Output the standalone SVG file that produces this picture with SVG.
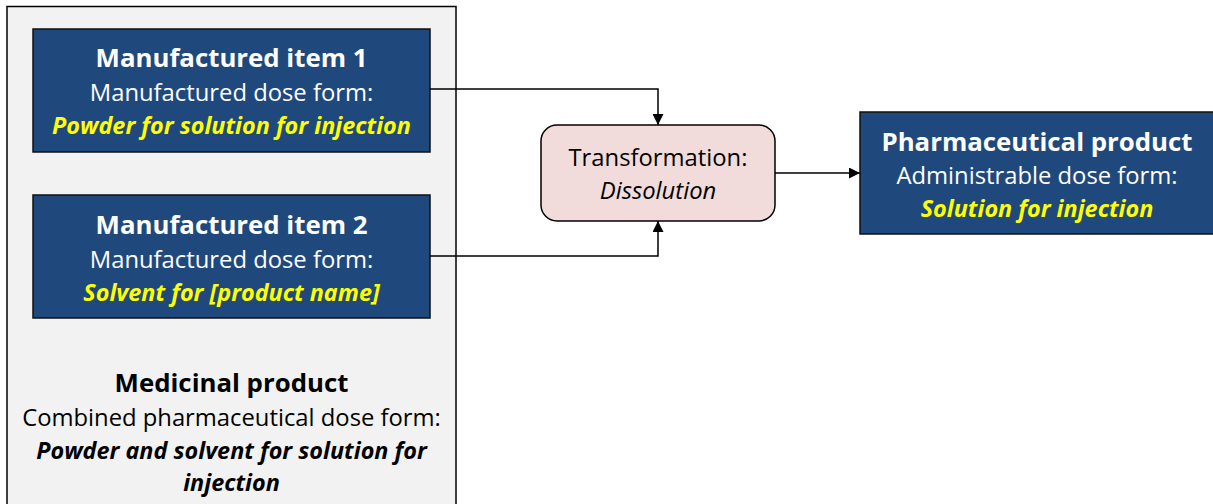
<svg xmlns="http://www.w3.org/2000/svg" width="1213" height="504" viewBox="0 0 1213 504">
  <style>
    text { font-family: "Open Sans", "Noto Sans", sans-serif; text-anchor: middle; }
    .blue { fill: #1F497D; stroke: #111; stroke-width: 1.5; }
    .title { font-size: 25.8px; font-weight: bold; fill: #fff; }
    .sub { font-size: 23.8px; fill: #fff; }
    .yel { font-size: 23.4px; font-weight: bold; font-style: italic; fill: #ffff00; }
    .dark { fill: #000; }
    .conn { fill: none; stroke: #000; stroke-width: 1.5; }
  </style>
  <defs>
    <marker id="arrow" viewBox="0 0 10 10" refX="10" refY="5" markerWidth="11" markerHeight="11" markerUnits="userSpaceOnUse" orient="auto" preserveAspectRatio="none">
      <path d="M0,0 L10,5 L0,10 z" fill="#000"/>
    </marker>
  </defs>
  <rect width="1213" height="504" fill="#fff"/>

  <g id="medicinal-product">
    <rect x="7" y="6.5" width="449" height="510" fill="#f2f2f2" stroke="#000" stroke-width="1.5"/>
    <text x="231.5" y="392" class="title dark">Medicinal product</text>
    <text x="231.5" y="426" class="sub dark">Combined pharmaceutical dose form:</text>
    <text x="231.5" y="459" class="yel dark">Powder and solvent for solution for</text>
    <text x="231.5" y="491" class="yel dark">injection</text>
  </g>

  <g id="manufactured-item-1">
    <rect x="33" y="29" width="397" height="123" class="blue"/>
    <text x="231.5" y="67" class="title">Manufactured item 1</text>
    <text x="231.5" y="101" class="sub">Manufactured dose form:</text>
    <text x="231.5" y="134" class="yel">Powder for solution for injection</text>
  </g>

  <g id="manufactured-item-2">
    <rect x="33" y="195" width="397" height="123" class="blue"/>
    <text x="231.5" y="234" class="title">Manufactured item 2</text>
    <text x="231.5" y="268" class="sub">Manufactured dose form:</text>
    <text x="231.5" y="301" class="yel">Solvent for [product name]</text>
  </g>

  <g id="transformation">
    <rect x="541" y="125" width="234" height="96" rx="16" fill="#F2DCDB" stroke="#000" stroke-width="1.5"/>
    <text x="658" y="166" class="sub dark">Transformation:</text>
    <text x="658" y="199" class="sub dark" font-style="italic">Dissolution</text>
  </g>

  <g id="pharmaceutical-product">
    <rect x="860" y="112" width="360" height="122" class="blue"/>
    <text x="1037" y="151" class="title">Pharmaceutical product</text>
    <text x="1037" y="184" class="sub">Administrable dose form:</text>
    <text x="1037" y="217" class="yel">Solution for injection</text>
  </g>

  <g id="connectors">
    <path d="M430,89 H658 V125" class="conn" marker-end="url(#arrow)"/>
    <path d="M430,256 H658 V221" class="conn" marker-end="url(#arrow)"/>
    <path d="M775,173 H860" class="conn" marker-end="url(#arrow)"/>
  </g>
</svg>
